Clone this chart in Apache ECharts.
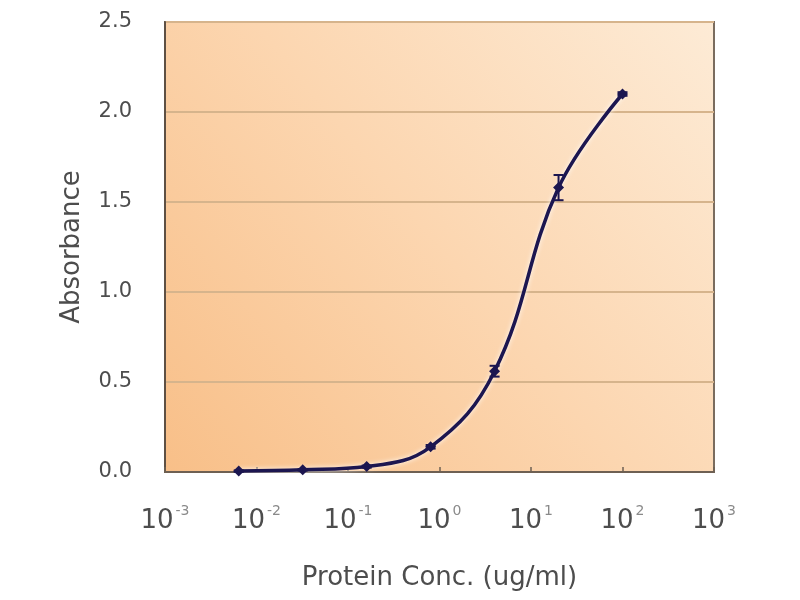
<!DOCTYPE html>
<html>
<head>
<meta charset="utf-8">
<script src="https://cdn.jsdelivr.net/npm/echarts@6/dist/echarts.min.js"></script>
<style>
html,body{margin:0;padding:0;background:#ffffff;}
#chart{width:800px;height:600px;}
</style>
</head>
<body>
<div id="chart"></div>
<script>
// Data
const concentrations = [0.0064, 0.032, 0.16, 0.8, 4, 20, 100];   // ug/ml
const absorbance     = [0.005, 0.012, 0.03, 0.14, 0.56, 1.58, 2.1];
const errors         = [0.004, 0.004, 0.006, 0.01, 0.03, 0.07, 0.01];
const yTicks = [0, 0.5, 1.0, 1.5, 2.0, 2.5];
const xTickExponents = [-3, -2, -1, 0, 1, 2, 3];

const textColor = '#4d4d4d';
const fontFamily = 'DejaVu Sans';

const lineData = concentrations.map((c, i) => [c, absorbance[i]]);
const errData = concentrations.map((c, i) => [c, absorbance[i] - errors[i], absorbance[i] + errors[i]]);

const chart = echarts.init(document.getElementById('chart'), null, {renderer: 'canvas'});
chart.setOption({
  backgroundColor: '#ffffff',
  animation: false,
  grid: {
    left: 165, top: 22, right: 86, bottom: 128,
    show: true,
    borderColor: '#7a6c5e',
    borderWidth: 2,
    backgroundColor: {
      type: 'linear', x: 0, y: 1, x2: 1, y2: 0,
      colorStops: [
        {offset: 0, color: '#f8bf88'},
        {offset: 0.5, color: '#fcd6b0'},
        {offset: 1, color: '#fdebd6'}
      ]
    }
  },
  xAxis: {
    type: 'log',
    logBase: 10,
    min: Math.pow(10, xTickExponents[0]),
    max: Math.pow(10, xTickExponents[xTickExponents.length - 1]),
    name: 'Protein Conc. (ug/ml)',
    nameLocation: 'middle',
    nameGap: 93,
    nameTextStyle: {fontSize: 26, color: textColor, fontFamily: fontFamily},
    axisLine: {show: true, lineStyle: {color: '#6e6053', width: 2}},
    axisTick: {show: true, inside: true, length: 5, lineStyle: {color: '#6e6053', width: 1.5}},
    splitLine: {show: false},
    minorTick: {show: false},
    axisLabel: {
      margin: 32,
      formatter: function (v) {
        const e = Math.round(Math.log10(v));
        return '{b|10}{s|' + (e < 0 ? '-' : '') + Math.abs(e) + '}';
      },
      rich: {
        b: {fontSize: 26, color: textColor, fontFamily: fontFamily, lineHeight: 30, verticalAlign: 'bottom'},
        s: {fontSize: 14, color: '#8a8a8a', fontFamily: fontFamily, lineHeight: 30, verticalAlign: 'top', padding: [0, 0, 0, 2]}
      }
    }
  },
  yAxis: {
    type: 'value',
    min: yTicks[0],
    max: yTicks[yTicks.length - 1],
    interval: 0.5,
    name: 'Absorbance',
    nameLocation: 'middle',
    nameGap: 80,
    nameRotate: 90,
    nameTextStyle: {fontSize: 26, color: textColor, fontFamily: fontFamily},
    axisLine: {show: true, lineStyle: {color: '#5e5044', width: 2}},
    axisTick: {show: false},
    splitLine: {show: true, lineStyle: {color: '#d6b48c', width: 2}},
    axisLabel: {
      margin: 33,
      fontSize: 21,
      color: textColor,
      fontFamily: fontFamily,
      formatter: function (v) { return v.toFixed(1); }
    }
  },
  series: [
    {
      type: 'line',
      data: lineData,
      smooth: 0.4,
      symbol: 'diamond',
      symbolSize: 11,
      itemStyle: {color: '#1c1650'},
      lineStyle: {color: '#1c1650', width: 3.5, shadowColor: 'rgba(255,255,255,0.95)', shadowBlur: 5},
      z: 3
    },
    {
      type: 'custom',
      data: errData,
      z: 4,
      renderItem: function (params, api) {
        const x = api.value(0);
        const lo = api.coord([x, api.value(1)]);
        const hi = api.coord([x, api.value(2)]);
        const cap = 5;
        const style = {stroke: '#1c1650', lineWidth: 2};
        return {
          type: 'group',
          children: [
            {type: 'line', shape: {x1: lo[0], y1: lo[1], x2: hi[0], y2: hi[1]}, style: style},
            {type: 'line', shape: {x1: lo[0] - cap, y1: lo[1], x2: lo[0] + cap, y2: lo[1]}, style: style},
            {type: 'line', shape: {x1: hi[0] - cap, y1: hi[1], x2: hi[0] + cap, y2: hi[1]}, style: style}
          ]
        };
      }
    }
  ]
});
</script>
</body>
</html>
